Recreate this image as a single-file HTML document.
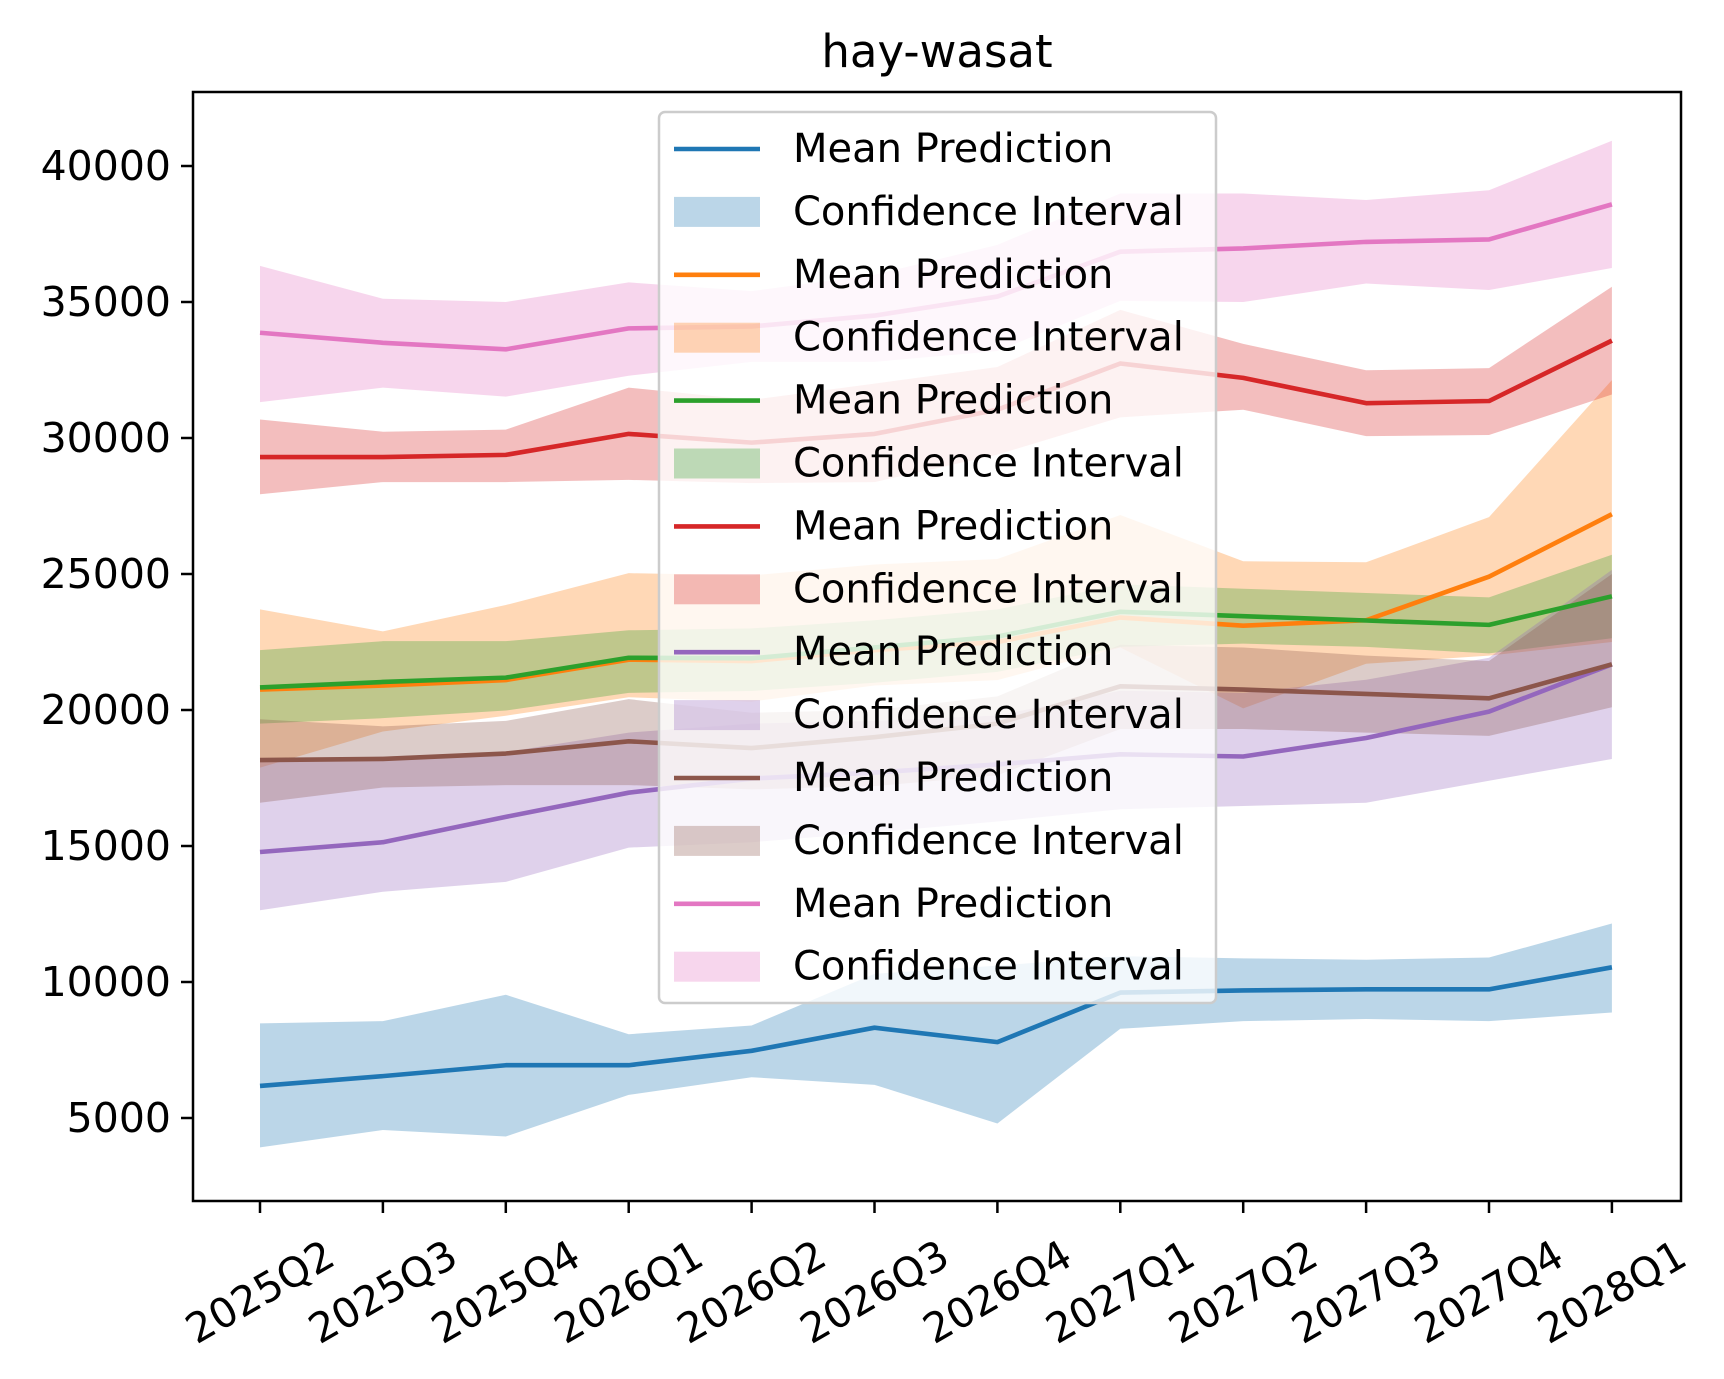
<!DOCTYPE html>
<html><head><meta charset="utf-8"><style>body{margin:0;background:#fff}svg{display:block}text{font-family:"DejaVu Sans","Liberation Sans",sans-serif;fill:#000}</style></head>
<body>
<svg id="chart" width="1724" height="1379" viewBox="0 0 1724 1379" xmlns="http://www.w3.org/2000/svg">
<text x="937" y="67" font-size="45" text-anchor="middle">hay-wasat</text>
<g id="bands"></g><g id="lines"></g><g id="axes"></g><g id="legend"></g>
</svg>
<script>
const categories=["2025Q2","2025Q3","2025Q4","2026Q1","2026Q2","2026Q3","2026Q4","2027Q1","2027Q2","2027Q3","2027Q4","2028Q1"];
const yTicks=[5000,10000,15000,20000,25000,30000,35000,40000];
const colors=["#1f77b4","#ff7f0e","#2ca02c","#d62728","#9467bd","#8c564b","#e377c2"];
const blueMean=[6180,6540,6940,6940,7470,8320,7790,9610,9690,9730,9730,10540];
const blueUp=[8480,8560,9530,8080,8400,10300,10600,10950,10870,10820,10900,12150];
const blueLo=[3920,4560,4320,5850,6500,6220,4800,8280,8560,8640,8560,8880];
const orangeMean=[20750,20900,21100,21850,21800,22200,22500,23400,23100,23300,24900,27200];
const orangeUp=[23700,22890,23860,25030,24950,25350,25550,27170,25470,25430,27090,32130];
const orangeLo=[17880,19210,19790,20470,20310,20900,21100,22300,20060,21700,22000,22500];
const greenMean=[20830,21030,21190,21920,21900,22300,22700,23610,23450,23290,23130,24180];
const greenUp=[22200,22530,22530,22930,23000,23300,23700,24620,24460,24300,24140,25710];
const greenLo=[19500,19700,19980,20630,20700,21000,21400,22320,22440,22320,22080,22640];
const redMean=[29300,29300,29380,30150,29830,30150,31040,32740,32210,31280,31360,33580];
const redUp=[30680,30230,30310,31850,31400,32000,32610,34710,33460,32490,32570,35560];
const redLo=[27930,28380,28380,28460,28340,28380,29390,30760,31040,30070,30110,31600];
const purpleMean=[14780,15140,16070,16960,17480,17700,18000,18370,18290,18970,19940,21680];
const purpleUp=[18160,18280,18450,19170,19500,19600,19800,20710,20630,21110,21920,25150];
const purpleLo=[12640,13320,13680,14940,15140,15500,15900,16350,16470,16590,17400,18200];
const brownMean=[18160,18200,18400,18850,18600,19000,19500,20870,20750,20590,20430,21680];
const brownUp=[19660,19400,19600,20400,19900,20000,20500,22400,22300,22000,21800,25000];
const brownLo=[16590,17150,17240,17240,17080,17200,17600,19300,19300,19170,19050,20100];
const pinkMean=[33870,33500,33260,34030,34100,34500,35200,36850,36970,37210,37300,38590];
const pinkUp=[36330,35120,35000,35720,35400,36000,37100,38990,38990,38750,39110,40930];
const pinkLo=[31320,31850,31520,32290,32800,32800,33200,35040,35000,35680,35440,36250];
const seriesNames=["blue","orange","green","red","purple","brown","pink"];
const means=[blueMean,orangeMean,greenMean,redMean,purpleMean,brownMean,pinkMean];
const ups=[blueUp,orangeUp,greenUp,redUp,purpleUp,brownUp,pinkUp];
const los=[blueLo,orangeLo,greenLo,redLo,purpleLo,brownLo,pinkLo];

const L=193,R=1681,T=92,B=1201;
const x=i=>260+i*122.9;
const y=v=>166+(40000-v)*136/5000;
const NS="http://www.w3.org/2000/svg";
function mk(t,p,a){const e=document.createElementNS(NS,t);for(const k in a)e.setAttribute(k,a[k]);p.appendChild(e);return e;}
const bands=document.getElementById('bands'),lines=document.getElementById('lines'),axes=document.getElementById('axes'),leg=document.getElementById('legend');
means.forEach((m,s)=>{
  let pts=ups[s].map((v,i)=>x(i)+","+y(v));
  for(let i=los[s].length-1;i>=0;i--)pts.push(x(i)+","+y(los[s][i]));
  const b=mk('polygon',bands,{points:pts.join(' '),fill:colors[s],'fill-opacity':0.3,stroke:'none'});
  
  
  const l=mk('polyline',lines,{points:m.map((v,i)=>x(i)+","+y(v)).join(' '),fill:'none',stroke:colors[s],'stroke-width':4.6,'stroke-linejoin':'round'});
  
  
});
const fr=mk('rect',axes,{x:L,y:T,width:R-L,height:B-T,fill:'none',stroke:'#000','stroke-width':2.5});


yTicks.forEach(v=>{
  const tk=mk('line',axes,{x1:L-12,x2:L,y1:y(v),y2:y(v),stroke:'#000','stroke-width':2.5});
  
  
  const t=mk('text',axes,{x:L-22,y:y(v),'font-size':41,'text-anchor':'end','dominant-baseline':'central'});
  t.textContent=v;
  
  
});
categories.forEach((c,i)=>{
  const tk=mk('line',axes,{x1:x(i),x2:x(i),y1:B,y2:B+12,stroke:'#000','stroke-width':2.5});
  
  
  const t=mk('text',axes,{x:x(i),y:1292,'font-size':41,'text-anchor':'middle','dominant-baseline':'central',transform:`rotate(-30 ${x(i)} 1292)`});
  t.textContent=c;
  
  
});
const lb=mk('rect',leg,{x:659,y:112,width:557,height:891,rx:6,fill:'#fff','fill-opacity':0.8,stroke:'#ccc','stroke-width':2.5});


for(let s=0;s<7;s++){
  for(let k=0;k<2;k++){
    const cy=149+62.9*(s*2+k);
    if(k===0){const h=mk('line',leg,{x1:674,x2:760,y1:cy,y2:cy,stroke:colors[s],'stroke-width':4.6});
      
      }
    else{const h=mk('rect',leg,{x:674,y:cy-15,width:86,height:30,fill:colors[s],'fill-opacity':0.3});
      
      }
    const t=mk('text',leg,{x:793,y:cy,'font-size':40,'dominant-baseline':'central'});
    t.textContent=k===0?"Mean Prediction":"Confidence Interval";
    
    
  }
}
</script>
</body></html>
